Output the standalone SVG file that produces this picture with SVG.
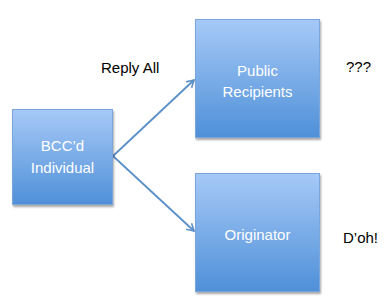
<svg xmlns="http://www.w3.org/2000/svg" width="389" height="303" viewBox="0 0 389 303">
<defs>
<linearGradient id="g" x1="0" y1="0" x2="0" y2="1">
<stop offset="0" stop-color="#a6c9f7"/>
<stop offset="1" stop-color="#4f90d8"/>
</linearGradient>
<filter id="sh" x="-10%" y="-10%" width="130%" height="130%">
<feGaussianBlur in="SourceAlpha" stdDeviation="1.2"/>
<feOffset dx="0.5" dy="1.5" result="b"/>
<feComponentTransfer><feFuncA type="linear" slope="0.35"/></feComponentTransfer>
<feMerge><feMergeNode/><feMergeNode in="SourceGraphic"/></feMerge>
</filter>
<marker id="ah" markerWidth="10" markerHeight="10" refX="8" refY="5" orient="auto" markerUnits="userSpaceOnUse">
<path d="M1,1 L8,5 L1,9" fill="none" stroke="#5a8fc8" stroke-width="1.6"/>
</marker>
</defs>
<style>
.box{fill:url(#g);stroke:#7aa6dc;stroke-width:1;filter:url(#sh)}
.bt{font-family:"Liberation Sans",Arial,sans-serif;font-size:15px;fill:#ffffff;text-anchor:middle}
.lt{font-family:"Liberation Sans",Arial,sans-serif;font-size:15px;fill:#000000}
.con{stroke:#5a8fc8;stroke-width:1.8;fill:none;marker-end:url(#ah)}
</style>
<rect width="389" height="303" fill="#ffffff"/>
<g id="connectors">
<line class="con" x1="113" y1="156" x2="194" y2="80"/>
<line class="con" x1="113" y1="156" x2="194" y2="231"/>
</g>
<g id="bcc">
<rect class="box" x="12.5" y="109.5" width="100" height="95"/>
<text class="bt" x="62.5" y="151">BCC’d</text>
<text class="bt" x="62.5" y="173">Individual</text>
</g>
<g id="public">
<rect class="box" x="195.5" y="19.5" width="124" height="118"/>
<text class="bt" x="257.5" y="76">Public</text>
<text class="bt" x="257.5" y="97">Recipients</text>
</g>
<g id="originator">
<rect class="box" x="195.5" y="173.5" width="124" height="118"/>
<text class="bt" x="257.5" y="240">Originator</text>
</g>
<g id="labels">
<text class="lt" x="101" y="72.5">Reply All</text>
<text class="lt" x="346" y="72">???</text>
<text class="lt" x="343" y="243">D’oh!</text>
</g>
</svg>
